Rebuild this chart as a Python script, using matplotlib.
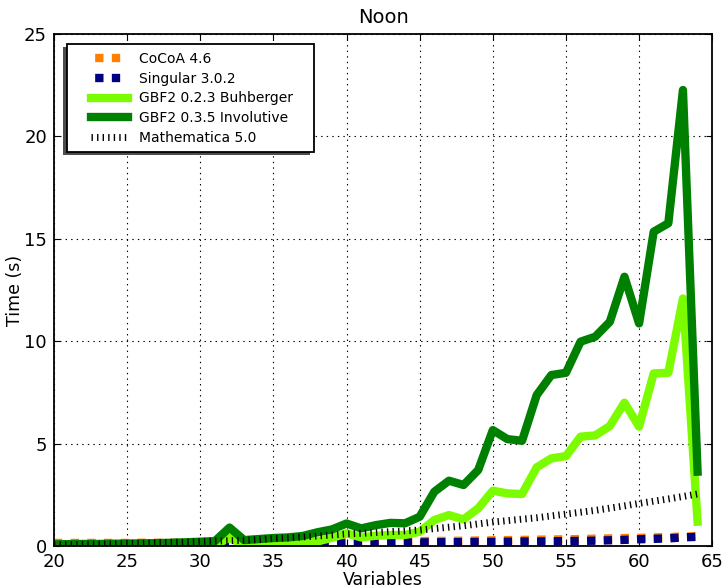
import matplotlib
matplotlib.use("Agg")
import matplotlib.pyplot as plt
from matplotlib.patches import Rectangle

plt.rcParams['font.family'] = ['DejaVu Sans']
plt.rcParams['lines.scale_dashes'] = False

variables = list(range(20, 65))

cocoa = [0.15, 0.15, 0.15, 0.15, 0.15, 0.15, 0.16, 0.16, 0.16, 0.17, 0.17,
         0.17, 0.18, 0.18, 0.18, 0.19, 0.19, 0.20, 0.20, 0.21, 0.21, 0.22,
         0.22, 0.23, 0.23, 0.24, 0.25, 0.25, 0.26, 0.27, 0.28, 0.29, 0.30,
         0.31, 0.32, 0.33, 0.34, 0.36, 0.37, 0.39, 0.40, 0.42, 0.44, 0.46,
         0.48]

singular = [0.05, 0.05, 0.05, 0.05, 0.05, 0.05, 0.05, 0.05, 0.05, 0.05, 0.05,
            0.05, 0.15, 0.05, 0.06, 0.06, 0.07, 0.08, 0.10, 0.12, 0.13, 0.14,
            0.15, 0.16, 0.17, 0.18, 0.18, 0.19, 0.19, 0.20, 0.20, 0.21, 0.22,
            0.22, 0.23, 0.24, 0.25, 0.26, 0.28, 0.30, 0.33, 0.35, 0.37, 0.42,
            0.45]

gbf_buchberger = [0.05, 0.05, 0.05, 0.05, 0.05, 0.05, 0.05, 0.05, 0.05, 0.05,
                  0.05, 0.06, 0.40, 0.05, 0.06, 0.08, 0.10, 0.15, 0.22, 0.40,
                  0.62, 0.42, 0.50, 0.54, 0.54, 0.70, 1.27, 1.51, 1.30, 1.84,
                  2.70, 2.57, 2.54, 3.84, 4.28, 4.39, 5.34, 5.40, 5.86, 7.00,
                  5.83, 8.43, 8.46, 12.09, 1.19]

gbf_involutive = [0.08, 0.09, 0.10, 0.10, 0.11, 0.12, 0.13, 0.14, 0.16, 0.18,
                  0.21, 0.24, 0.90, 0.29, 0.34, 0.39, 0.42, 0.49, 0.67, 0.81,
                  1.10, 0.86, 1.02, 1.13, 1.11, 1.43, 2.65, 3.19, 2.98, 3.71,
                  5.66, 5.22, 5.14, 7.37, 8.35, 8.46, 9.98, 10.22, 10.95, 13.15,
                  10.87, 15.35, 15.76, 22.27, 3.63]

mathematica = [0.06, 0.07, 0.08, 0.09, 0.10, 0.12, 0.13, 0.15, 0.17, 0.19,
               0.21, 0.24, 0.26, 0.28, 0.31, 0.37, 0.40, 0.44, 0.49, 0.54,
               0.59, 0.62, 0.66, 0.70, 0.74, 0.78, 0.85, 0.92, 0.99, 1.08,
               1.17, 1.24, 1.31, 1.38, 1.47, 1.56, 1.65, 1.74, 1.85, 1.96,
               2.08, 2.19, 2.30, 2.42, 2.54]

fig = plt.figure(figsize=(7.26, 5.88), dpi=100)
ax = fig.add_axes([0.0744, 0.0714, 0.9066, 0.8706])

lw = 6
ax.plot(variables, cocoa, color='#ff8000', lw=lw, linestyle=(0, (6, 6)),
        dash_capstyle='butt', label='CoCoA 4.6')
ax.plot(variables, singular, color='#000080', lw=lw, linestyle=(0, (6, 6)),
        dash_capstyle='butt', label='Singular 3.0.2')
ax.plot(variables, gbf_buchberger, color='#7cfc00', lw=lw,
        label='GBF2 0.2.3 Buhberger')
ax.plot(variables, gbf_involutive, color='#008000', lw=lw,
        label='GBF2 0.3.5 Involutive')
ax.plot(variables, mathematica, color='black', lw=5, linestyle=(0, (1, 3)),
        dash_capstyle='butt', label='Mathematica 5.0')

ax.set_xlim(20, 65)
ax.set_ylim(0, 25)
ax.set_xticks(range(20, 66, 5))
ax.set_yticks(range(0, 26, 5))
ax.grid(True, color='black', linestyle=(0, (1, 3)), linewidth=0.8)
ax.tick_params(direction='in', top=True, right=True, length=4,
               labelsize=13)
ax.tick_params(axis='y', pad=5)
ax.tick_params(axis='x', pad=5)
for s in ax.spines.values():
    s.set_linewidth(1.3)

ax.set_title('Noon', fontsize=14, pad=8)
ax.set_xlabel('Variables', fontsize=12.5, labelpad=0)
ax.set_ylabel('Time (s)', fontsize=12.5, labelpad=0)

# legend frame with a down-left drop shadow, wider side padding
box_x, box_y, box_w, box_h = 0.0198, 0.7695, 0.3755, 0.211
shadow = Rectangle((box_x - 4 / 658, box_y - 3 / 512), box_w, box_h,
                   transform=ax.transAxes, facecolor='0.3', edgecolor='none',
                   zorder=9.5)
frame = Rectangle((box_x, box_y), box_w, box_h, transform=ax.transAxes,
                  facecolor='white', edgecolor='black', linewidth=1.3,
                  zorder=10)
ax.add_patch(shadow)
ax.add_patch(frame)

leg = ax.legend(loc='upper left', frameon=False, fontsize=10,
                handlelength=2.65, handletextpad=0.8, borderpad=0,
                labelspacing=0.4, bbox_to_anchor=(0.0456, 0.978))
leg.set_zorder(11)
# two square dashes per sample in the legend
for h in leg.legend_handles[:2]:
    h.set_linestyle((30, (6, 6, 6, 15)))
    h.set_dash_capstyle('butt')

fig.savefig('out.png', dpi=100)
